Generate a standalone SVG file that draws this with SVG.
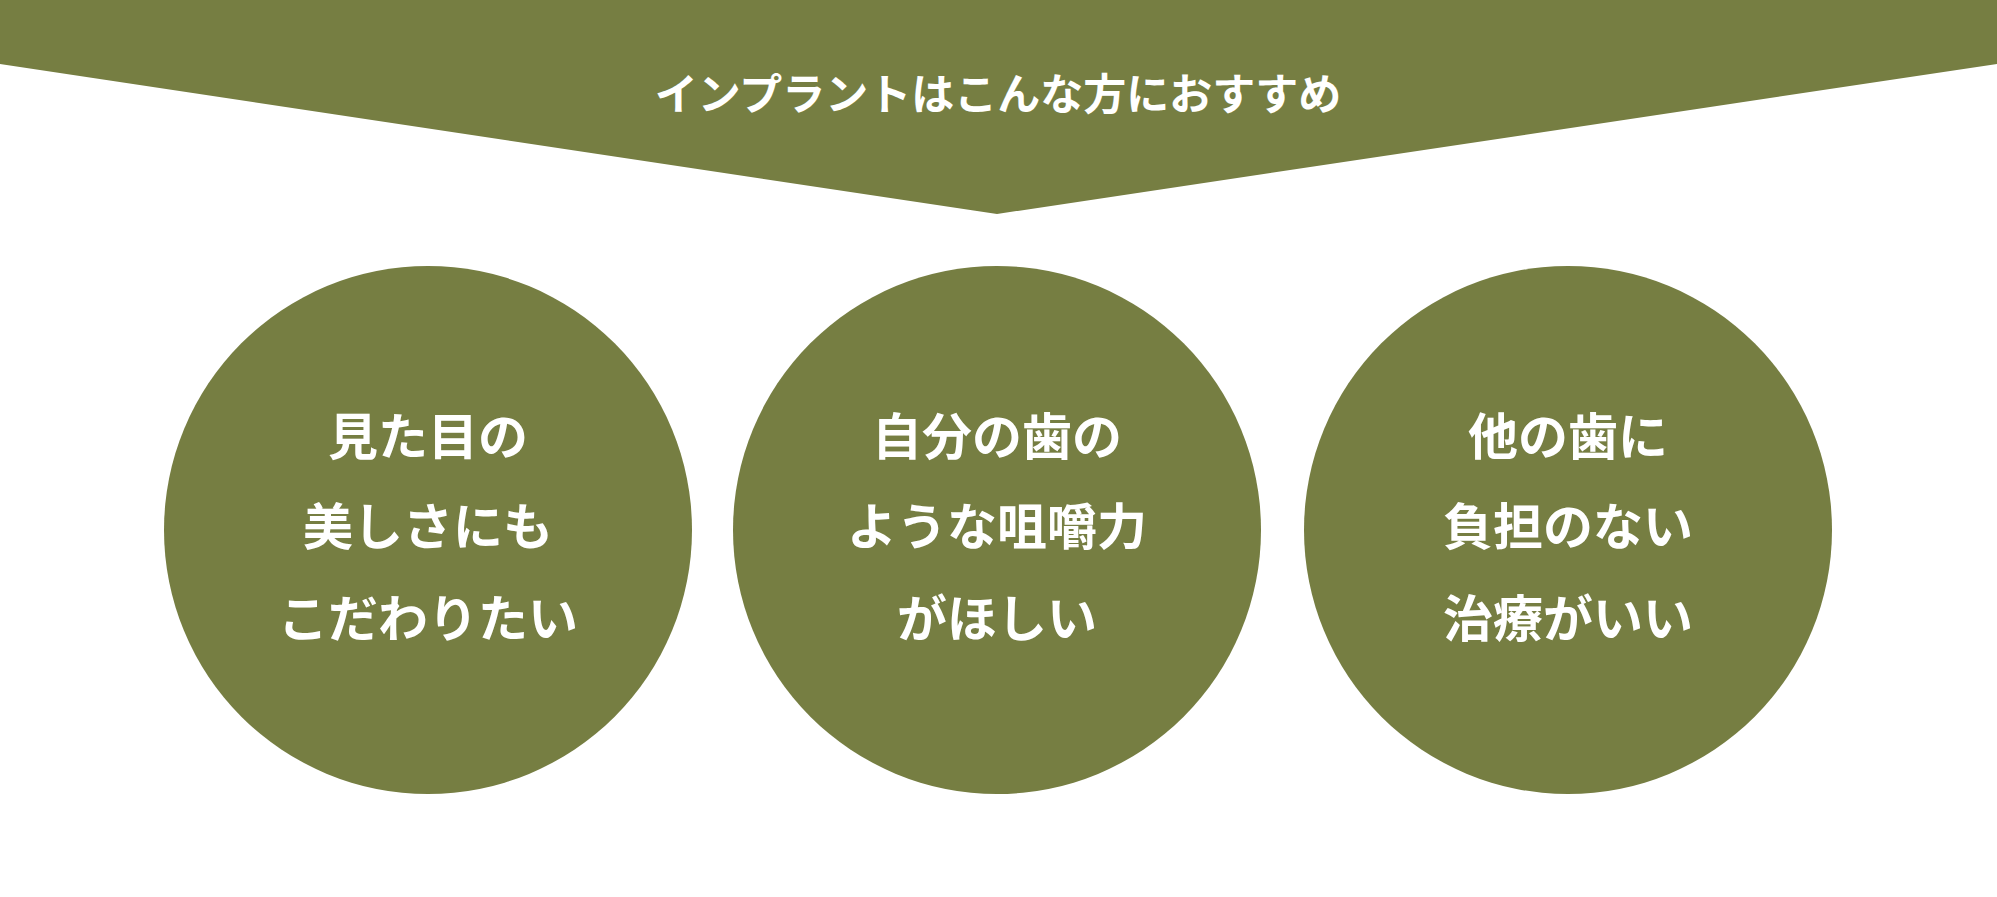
<svg xmlns="http://www.w3.org/2000/svg" width="1997" height="897" viewBox="0 0 1997 897">
<style>
.bg{fill:#767e42}
.t{fill:#fff;font-family:"Noto Sans CJK JP",sans-serif;font-weight:700;text-anchor:middle}
.h{font-size:43px}
.c{font-size:50px}
</style>
<rect width="1997" height="897" fill="#fff"/>
<g id="banner">
<polygon class="bg" points="0,0 1997,0 1997,64 997,214 0,64"/>
<text class="t h" x="998" y="110">インプラントはこんな方におすすめ</text>
</g>
<g id="c1">
<circle class="bg" cx="428" cy="530" r="264"/>
<text class="t c" x="428" y="455">見た目の</text>
<text class="t c" x="428" y="545">美しさにも</text>
<text class="t c" x="428" y="637">こだわりたい</text>
</g>
<g id="c2">
<circle class="bg" cx="997" cy="530" r="264"/>
<text class="t c" x="997" y="455">自分の歯の</text>
<text class="t c" x="997" y="545">ような咀嚼力</text>
<text class="t c" x="997" y="637">がほしい</text>
</g>
<g id="c3">
<circle class="bg" cx="1568" cy="530" r="264"/>
<text class="t c" x="1568" y="455">他の歯に</text>
<text class="t c" x="1568" y="545">負担のない</text>
<text class="t c" x="1568" y="637">治療がいい</text>
</g>
<g id="connectors"/>
</svg>
